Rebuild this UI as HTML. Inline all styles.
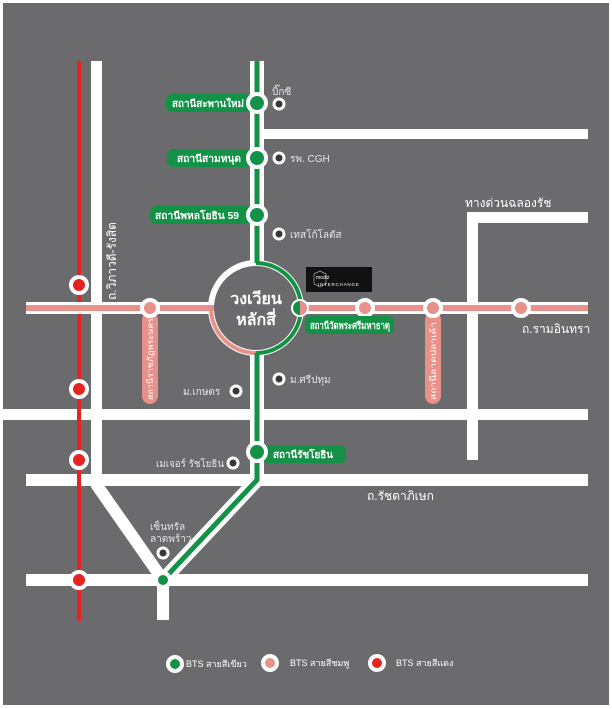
<!DOCTYPE html>
<html><head><meta charset="utf-8"><style>
html,body{margin:0;padding:0;background:#fff;}
svg{display:block;}
text{font-family:"Liberation Sans",sans-serif;}
</style></head><body>
<svg width="612" height="709" viewBox="0 0 612 709" xmlns="http://www.w3.org/2000/svg">
<rect x="0" y="0" width="612" height="709" fill="#fff"/>
<rect x="3" y="3" width="606" height="702" fill="#6b6b6e"/>
<!-- roads -->
<g fill="#fff">
<rect x="91" y="61" width="11" height="426"/>
<rect x="262" y="129" width="326" height="10"/>
<rect x="3" y="409" width="585" height="11"/>
<rect x="26" y="474" width="562" height="12"/>
<rect x="26" y="574" width="562" height="12"/>
<rect x="467" y="212" width="11" height="248"/>
<rect x="467" y="212" width="121" height="11"/>
<rect x="157" y="580" width="12" height="40"/>
</g>
<path d="M96 484 L163 580" stroke="#fff" stroke-width="12" fill="none"/>
<!-- red line -->
<rect x="77" y="61" width="4" height="560" fill="#e52421"/>
<!-- green casing -->
<path d="M257 61 L257 480 L163 580" stroke="#fff" stroke-width="14" fill="none" stroke-linejoin="round"/>
<!-- roundabout -->
<circle cx="256" cy="308" r="48" fill="#fff"/>
<!-- pink line -->
<rect x="26" y="302" width="562" height="12" fill="#fff"/>
<rect x="26" y="305" width="562" height="6" fill="#e8918a"/>
<circle cx="256" cy="308" r="42" fill="#6b6b6e"/>
<path d="M211 308 A45 45 0 0 0 256 353" stroke="#e8918a" stroke-width="4" fill="none"/>
<!-- green line -->
<path d="M257 61 L257 263 M257 353 L257 480 L163 580" stroke="#139247" stroke-width="5" fill="none"/>
<path d="M256 263 A45 45 0 0 1 256 353" stroke="#139247" stroke-width="4" fill="none"/>
<text x="256" y="304" font-size="16" font-weight="bold" fill="#fff" text-anchor="middle">วงเวียน</text>
<text x="256" y="325" font-size="16" font-weight="bold" fill="#fff" text-anchor="middle">หลักสี่</text>
<!-- pink vertical pills -->
<rect x="142" y="312" width="16" height="92" rx="8" fill="#e8918a"/>
<rect x="425" y="312" width="16" height="92" rx="8" fill="#e8918a"/>
<text transform="translate(153,400) rotate(-90)" font-size="8" fill="#fff" textLength="82" lengthAdjust="spacingAndGlyphs">สถานีราชภัฏพระนคร</text>
<text transform="translate(436,400) rotate(-90)" font-size="8" fill="#fff" textLength="78" lengthAdjust="spacingAndGlyphs">สถานีลาดปลาเค้า</text>
<!-- stations -->
<g stroke="#fff" stroke-width="4">
<circle cx="150" cy="308" r="8" fill="#e8918a"/>
<circle cx="365" cy="308" r="8" fill="#e8918a"/>
<circle cx="433" cy="308" r="8" fill="#e8918a"/>
<circle cx="521" cy="308" r="8" fill="#e8918a"/>
<circle cx="79" cy="285" r="8" fill="#e52421"/>
<circle cx="79" cy="389" r="8" fill="#e52421"/>
<circle cx="79" cy="460" r="8" fill="#e52421"/>
<circle cx="79" cy="580" r="8" fill="#e52421"/>
<circle cx="163" cy="580" r="7" fill="#139247"/>
</g>
<!-- green pills -->
<g fill="#139247">
<rect x="166" y="94" width="86" height="18" rx="6"/>
<rect x="167" y="149" width="85" height="18" rx="6"/>
<rect x="150" y="206" width="102" height="18" rx="6"/>
<rect x="262" y="445" width="84" height="18" rx="6"/>
<rect x="305" y="316" width="89" height="18" rx="6"/>
</g>
<g stroke="#fff" stroke-width="4" fill="#139247">
<circle cx="257" cy="103" r="9"/>
<circle cx="257" cy="158" r="9"/>
<circle cx="257" cy="215" r="9"/>
<circle cx="257" cy="452" r="9"/>
</g>
<circle cx="300" cy="308" r="9" fill="#fff"/>
<path d="M300 301 A7 7 0 0 0 300 315 Z" fill="#139247"/>
<path d="M300 301 A7 7 0 0 1 300 315 Z" fill="#e8918a"/>
<g font-size="10" font-weight="bold" fill="#fff" lengthAdjust="spacingAndGlyphs">
<text x="172" y="107" textLength="72" lengthAdjust="spacingAndGlyphs">สถานีสะพานใหม่</text>
<text x="177" y="162" textLength="64" lengthAdjust="spacingAndGlyphs">สถานีสามหนุด</text>
<text x="155" y="219" textLength="84" lengthAdjust="spacingAndGlyphs">สถานีพหลโยธิน 59</text>
<text x="273" y="458" textLength="60" lengthAdjust="spacingAndGlyphs">สถานีรัชโยธิน</text>
<text x="310" y="329" textLength="80" lengthAdjust="spacingAndGlyphs">สถานีวัดพระศรีมหาธาตุ</text>
</g>
<!-- POIs -->
<g stroke="#fff" stroke-width="3" fill="#3a3536">
<circle cx="279" cy="104" r="5"/>
<circle cx="279" cy="158" r="5"/>
<circle cx="279" cy="234" r="5"/>
<circle cx="236" cy="391" r="5"/>
<circle cx="279" cy="379" r="5"/>
<circle cx="233" cy="463" r="5"/>
<circle cx="163" cy="553" r="5"/>
</g>
<g font-size="10" fill="#e6e6e6">
<text x="272" y="95">บิ๊กซี</text>
<text x="290" y="162">รพ. CGH</text>
<text x="290" y="238">เทสโก้โลตัส</text>
<text x="183" y="395">ม.เกษตร</text>
<text x="290" y="383">ม.ศรีปทุม</text>
<text x="156" y="467" textLength="68" lengthAdjust="spacingAndGlyphs">เมเจอร์ รัชโยธิน</text>
<text x="150" y="530">เซ็นทรัล</text>
<text x="150" y="542">ลาดพร้าว</text>
</g>
<g font-size="12" fill="#fff">
<text x="465" y="207">ทางด่วนฉลองรัช</text>
<text x="522" y="333">ถ.รามอินทรา</text>
<text x="367" y="500">ถ.รัชดาภิเษก</text>
<text transform="translate(116,300) rotate(-90)">ถ.วิภาวดี-รังสิต</text>
</g>
<!-- interchange box -->
<rect x="306" y="267" width="66" height="25" fill="#111"/>
<polygon points="320,271 326,274 326,284 320,287 314,284 314,274" fill="none" stroke="#aaa" stroke-width="0.7"/>
<text x="316" y="279" font-size="5" fill="#fff">modiz</text>
<text x="318" y="286" font-size="4.5" fill="#fff" letter-spacing="0.8">INTERCHANGE</text>
<!-- legend -->
<g stroke="#fff" stroke-width="4">
<circle cx="175" cy="664" r="7" fill="#139247"/>
<circle cx="270" cy="663" r="7" fill="#e8918a"/>
<circle cx="377" cy="663" r="7" fill="#e52421"/>
</g>
<g font-size="9" fill="#fff">
<text x="186" y="667">BTS สายสีเขียว</text>
<text x="290" y="666">BTS สายสีชมพู</text>
<text x="396" y="666">BTS สายสีแดง</text>
</g>
</svg>
</body></html>
